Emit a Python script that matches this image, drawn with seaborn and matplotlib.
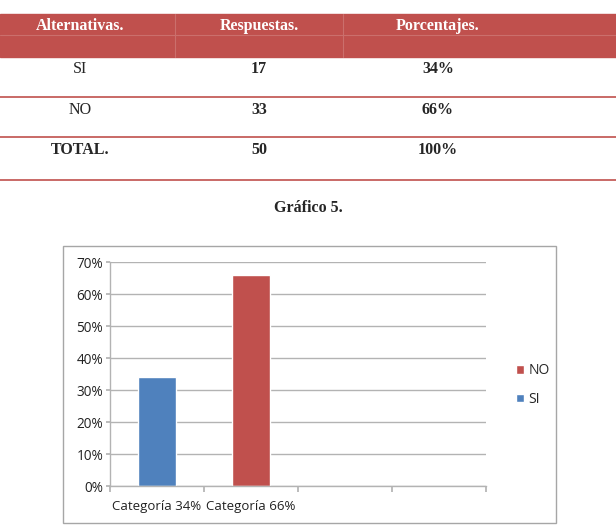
import pandas as pd
import matplotlib.pyplot as plt
import matplotlib.patches as mpatches
import seaborn as sns

# table data
col_headers = ["Alternativas.", "Respuestas.", "Porcentajes."]
alternativas = ["SI", "NO", "TOTAL."]
respuestas = ["17", "33", "50"]
porcentajes = ["34%", "66%", "100%"]

# chart data
categorias = ["Categoría 34%", "Categoría 66%"]
series = ["SI", "NO"]
valores = [34, 66]

red = "#C0504D"
blue = "#4F81BD"
grid_c = "#B3B3B3"

sns.set_theme(style="white")
plt.rcParams['font.family'] = ['Open Sans', 'DejaVu Sans']

fig = plt.figure(figsize=(6.16, 5.31), dpi=100)
W, H = 616, 531

def fx(px):
    return px / W

def fy(py):
    return 1 - py / H

# ---- table ----
fig.patches.append(mpatches.Rectangle((0, fy(57)), 1, fy(14) - fy(57),
                                      transform=fig.transFigure, color=red, zorder=0))
fig.add_artist(plt.Line2D([0, 1], [fy(35), fy(35)], transform=fig.transFigure,
                          color="#CB6F6C", lw=0.8))
for xc in [175, 343]:
    fig.add_artist(plt.Line2D([fx(xc), fx(xc)], [fy(57), fy(14)], transform=fig.transFigure,
                              color="#CB6F6C", lw=0.8))
col_x = [80, 259, 438]
serif = ['Liberation Serif', 'DejaVu Serif']
for x, h in zip(col_x, col_headers):
    fig.text(fx(x), fy(26), h, ha="center", va="center", color="white",
             fontsize=11.5, fontweight="bold", family=serif)
row_y = [69, 110, 150]
for i, y in enumerate(row_y):
    fig.text(fx(col_x[0]), fy(y), alternativas[i], ha="center", va="center",
             fontsize=11.5, fontweight="bold" if i == 2 else "normal", family=serif)
    fig.text(fx(col_x[1]), fy(y), respuestas[i], ha="center", va="center",
             fontsize=11.5, fontweight="bold", family=serif)
    fig.text(fx(col_x[2]), fy(y), porcentajes[i], ha="center", va="center",
             fontsize=11.5, fontweight="bold", family=serif)
for yl in [97, 137, 180]:
    fig.add_artist(plt.Line2D([0, 1], [fy(yl), fy(yl)], transform=fig.transFigure,
                              color=red, lw=1.2))

fig.text(0.5, fy(208), "Gráfico 5.", ha="center", va="center",
         fontsize=11.5, fontweight="bold", family=serif)

# ---- chart box ----
fig.patches.append(mpatches.Rectangle((fx(63), fy(523)), fx(556) - fx(63), fy(246) - fy(523),
                                      transform=fig.transFigure, fill=False,
                                      edgecolor="#A6A6A6", lw=1.0))

ax = fig.add_axes([fx(110), fy(486), fx(486) - fx(110), fy(262) - fy(486)])
df = pd.DataFrame({"cat": categorias, "serie": series, "valor": valores})
sns.barplot(data=df, x="cat", y="valor", hue="serie", palette=[blue, red],
            width=0.4, ax=ax, legend=True, saturation=1)
ax.set_xlim(-0.5, 3.5)
ax.set_ylim(0, 70)
ax.set_yticks(range(0, 71, 10))
ax.set_yticklabels([f"{v}%" for v in range(0, 71, 10)], fontsize=9.8, color="#222222")
ax.yaxis.grid(True, color=grid_c, lw=1)
ax.set_axisbelow(True)
ax.set_xticks([-0.5, 0.5, 1.5, 2.5, 3.5])
ax.set_xticklabels([""] * 5)
ax.set_xticks([0, 1], labels=categorias, minor=True)
ax.tick_params(axis="x", which="major", length=4, color=grid_c, direction="out", bottom=True)
ax.tick_params(axis="x", which="minor", length=0, labelsize=9.5, labelcolor="#222222", pad=10)
ax.tick_params(axis="y", length=3, color=grid_c, left=True, pad=2)
ax.set_xlabel("")
ax.set_ylabel("")
for s in ["top", "right"]:
    ax.spines[s].set_visible(False)
for s in ["left", "bottom"]:
    ax.spines[s].set_color(grid_c)
    ax.spines[s].set_linewidth(1)

handles, labels = ax.get_legend_handles_labels()
ax.legend(handles[::-1], labels[::-1], loc="center left",
          bbox_to_anchor=(fx(503), fy(385)), bbox_transform=fig.transFigure,
          frameon=False, fontsize=10, handlelength=0.6, handleheight=0.6,
          handletextpad=0.35, labelspacing=1.0)

fig.savefig("out.png", dpi=100)
